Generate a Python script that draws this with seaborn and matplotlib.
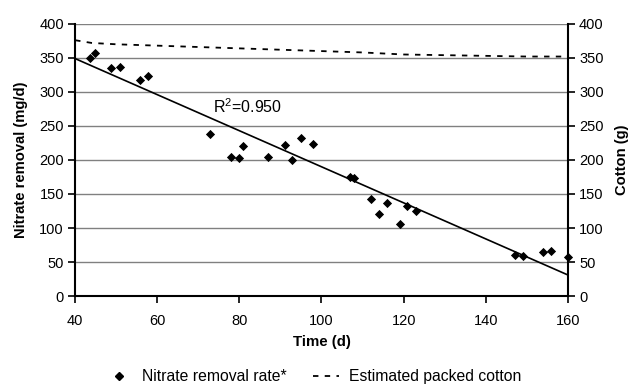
import numpy as np
import pandas as pd
import matplotlib
matplotlib.use("Agg")
import matplotlib.pyplot as plt
import seaborn as sns
from matplotlib.lines import Line2D

# Data
time_d = [43.7, 44.9, 48.8, 51.0, 55.8, 57.8, 72.9, 77.9, 79.9, 80.9, 87.0, 91.0,
          92.9, 95.0, 98.0, 106.9, 107.9, 112.0, 114.0, 116.0, 119.0, 120.9, 123.0,
          147.1, 149.0, 154.0, 156.0, 160.0]
nitrate_rate = [350, 357, 335, 337, 318, 323, 238, 205, 203, 221, 204, 222,
                200, 233, 223, 175, 173, 142, 121, 137, 106, 133, 125,
                60, 59, 65, 66, 57]

cotton_time = [40, 44, 50, 60, 70, 80, 90, 100, 110, 120, 130, 140, 150, 160]
cotton_g = [376, 372, 370, 368, 366, 364, 362, 360, 358, 355, 354, 353, 352, 352]

trend_time = [40, 160]
trend_rate = [349, 31]

r2_label = "R$^2$=0.950"
x_ticks = [40, 60, 80, 100, 120, 140, 160]
y_ticks = [0, 50, 100, 150, 200, 250, 300, 350, 400]

sns.set_style("white")
plt.rcParams['font.family'] = ['Liberation Sans', 'DejaVu Sans']
plt.rcParams['mathtext.fontset'] = 'custom'
plt.rcParams['mathtext.rm'] = 'Liberation Sans'
for k in ('text.color', 'axes.labelcolor', 'xtick.color', 'ytick.color'):
    plt.rcParams[k] = 'black'

fig = plt.figure(figsize=(6.31, 3.85), dpi=100)
ax = fig.add_axes([0.119, 0.231, 0.781, 0.707])

df_pts = pd.DataFrame({"t": time_d, "r": nitrate_rate})
df_cot = pd.DataFrame({"t": cotton_time, "c": cotton_g})
df_tr = pd.DataFrame({"t": trend_time, "r": trend_rate})

for yv in y_ticks:
    ax.axhline(yv, color="#808080", lw=1.0, zorder=0)

dash = (0, (3, 3.5))

sns.lineplot(data=df_tr, x="t", y="r", ax=ax, color="black", lw=1.2, zorder=3)
sns.scatterplot(data=df_pts, x="t", y="r", ax=ax, marker="D", s=22, color="black",
                edgecolor="black", linewidth=0, zorder=4, clip_on=False)

ax2 = ax.twinx()
sns.lineplot(data=df_cot, x="t", y="c", ax=ax2, color="black", lw=1.3,
             linestyle=dash, zorder=3)

for a in (ax, ax2):
    a.set_xlim(40, 160)
    a.set_ylim(0, 400)
    a.set_yticks(y_ticks)
    for s in a.spines.values():
        s.set_visible(False)

ax.set_xticks(x_ticks)
ax.spines['left'].set_visible(True)
ax.spines['bottom'].set_visible(True)
ax2.spines['right'].set_visible(True)
for s in (ax.spines['left'], ax.spines['bottom'], ax2.spines['right']):
    s.set_color("black")
    s.set_linewidth(1.5)

ax.tick_params(axis='y', direction='out', length=5, width=1.2, color='black',
               labelcolor='black', labelsize=10.5, pad=3, left=True)
ax.tick_params(axis='x', direction='out', length=5, width=1.2, color='black',
               labelcolor='black', labelsize=10.5, pad=8, bottom=True)
ax2.tick_params(axis='y', direction='out', length=5, width=1.2, color='black',
                labelcolor='black', labelsize=10.5, pad=3, right=True)

ax.set_xlabel("Time (d)", fontsize=10.8, fontweight='bold', labelpad=5, color='black')
ax.set_ylabel("Nitrate removal (mg/d)", fontsize=10.6, fontweight='bold', labelpad=8,
              color='black')
ax2.set_ylabel("Cotton (g)", fontsize=10.6, fontweight='bold', labelpad=8, color='black')

ax.text(73.5, 278, r2_label, fontsize=11.5, va='center', ha='left', color='black')

handles = [Line2D([], [], marker='D', color='black', ls='none', markersize=4.3),
           Line2D([], [], color='black', lw=1.3, ls=dash)]
fig.legend(handles, ["Nitrate removal rate*", "Estimated packed cotton"],
           loc='center', bbox_to_anchor=(0.497, 0.021), ncol=2, frameon=False,
           fontsize=11.3, handlelength=1.66, columnspacing=1.66, handletextpad=0.64,
           borderpad=0, borderaxespad=0, labelcolor='black')

fig.savefig("out.png", dpi=100)
